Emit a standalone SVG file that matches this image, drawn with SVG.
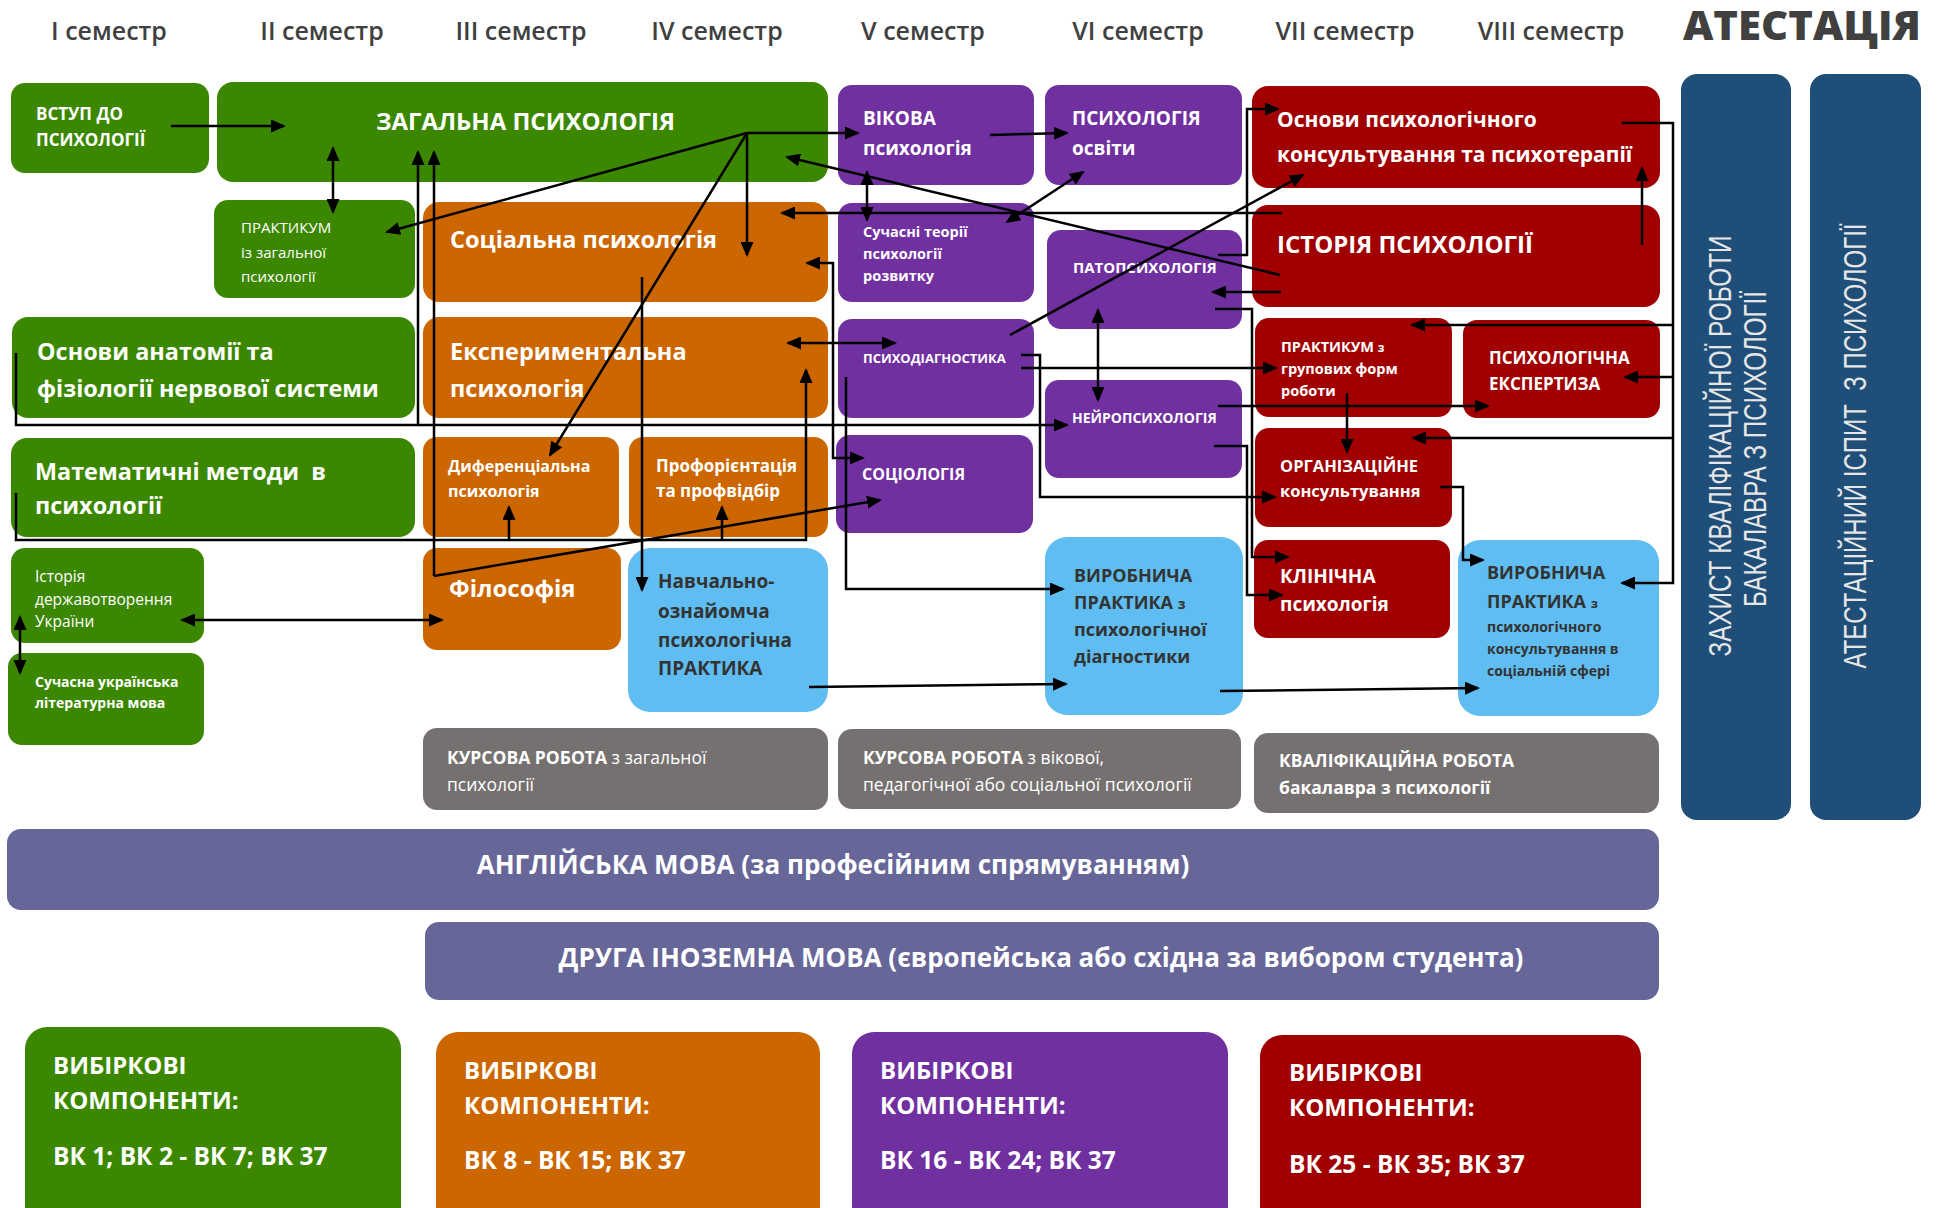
<svg xmlns="http://www.w3.org/2000/svg" width="1941" height="1208" viewBox="0 0 1941 1208">
<defs>
<style>
text{font-family:"Open Sans","DejaVu Sans",sans-serif;}
.hd{font-size:25px;font-weight:600;fill:#404040;}
.w{fill:#fff;font-weight:700;}
.wr{fill:#fff;font-weight:400;}
.d{fill:#333;font-weight:700;}
.g{fill:#3b8700}.o{fill:#cc6600}.p{fill:#7030a0}.r{fill:#a00000}.lb{fill:#5fbdf1}.gr{fill:#767171}.nv{fill:#1f4e79}.sl{fill:#666699}
.vt{font-family:"Liberation Sans",Arial,sans-serif;fill:#e6e6e6;font-size:32px;font-weight:400;}
.c{fill:none;stroke:#000;stroke-width:2.5}
.e{marker-end:url(#ah)}
.be{marker-start:url(#ah);marker-end:url(#ah)}
</style>
<marker id="ah" viewBox="0 0 15 13" refX="13" refY="6.5" markerWidth="15" markerHeight="13" markerUnits="userSpaceOnUse" orient="auto-start-reverse">
<path d="M0,0 L15,6.5 L0,13 z" fill="#000"/>
</marker>
</defs>
<rect width="1941" height="1208" fill="#fff"/>

<g id="headers">
<text class="hd" x="109" y="40" text-anchor="middle">I семестр</text>
<text class="hd" x="322" y="40" text-anchor="middle">II семестр</text>
<text class="hd" x="521" y="40" text-anchor="middle">III семестр</text>
<text class="hd" x="717" y="40" text-anchor="middle">IV семестр</text>
<text class="hd" x="923" y="40" text-anchor="middle">V семестр</text>
<text class="hd" x="1138" y="40" text-anchor="middle">VI семестр</text>
<text class="hd" x="1345" y="40" text-anchor="middle">VII семестр</text>
<text class="hd" x="1551" y="40" text-anchor="middle">VIII семестр</text>
<text x="1802" y="40" text-anchor="middle" textLength="238" lengthAdjust="spacingAndGlyphs" style="font-size:40px;font-weight:800;fill:#404040">АТЕСТАЦІЯ</text>
</g>

<g id="n-vstup"><rect class="g" x="11" y="83" width="198" height="90" rx="14"/>
<text class="w" x="36" y="120" font-size="17">ВСТУП ДО</text><text class="w" x="36" y="146" font-size="17">ПСИХОЛОГІЇ</text></g>
<g id="n-zagalna"><rect class="g" x="217" y="82" width="611" height="100" rx="16"/>
<text class="w" x="376" y="130" font-size="24">ЗАГАЛЬНА ПСИХОЛОГІЯ</text></g>
<g id="n-prakt1"><rect class="g" x="214" y="200" width="201" height="98" rx="14"/>
<text class="wr" x="241" y="233" font-size="15">ПРАКТИКУМ</text><text class="wr" x="241" y="258" font-size="15">із загальної</text><text class="wr" x="241" y="282" font-size="15">психології</text></g>
<g id="n-social"><rect class="o" x="423" y="202" width="405" height="100" rx="16"/>
<text class="w" x="450" y="248" font-size="23.5">Соціальна психологія</text></g>
<g id="n-anat"><rect class="g" x="12" y="317" width="403" height="101" rx="16"/>
<text class="w" x="37" y="360" font-size="23.4">Основи анатомії та</text><text class="w" x="37" y="397" font-size="23.4">фізіології нервової системи</text></g>
<g id="n-exper"><rect class="o" x="423" y="317" width="405" height="101" rx="16"/>
<text class="w" x="450" y="360" font-size="23.5">Експериментальна</text><text class="w" x="450" y="397" font-size="23.5">психологія</text></g>
<g id="n-math"><rect class="g" x="11" y="438" width="404" height="99" rx="16"/>
<text class="w" x="35" y="480" font-size="23.4" xml:space="preserve">Математичні методи  в</text><text class="w" x="35" y="514" font-size="23.4">психології</text></g>
<g id="n-difer"><rect class="o" x="423" y="437" width="196" height="100" rx="14"/>
<text class="w" x="448" y="472" font-size="16">Диференціальна</text><text class="w" x="448" y="497" font-size="16">психологія</text></g>
<g id="n-profor"><rect class="o" x="629" y="437" width="199" height="100" rx="14"/>
<text class="w" x="656" y="472" font-size="17">Профорієнтація</text><text class="w" x="656" y="497" font-size="17">та профвідбір</text></g>
<g id="n-istderzh"><rect class="g" x="11" y="548" width="193" height="95" rx="14"/>
<text class="wr" x="35" y="582" font-size="15.5">Історія</text><text class="wr" x="35" y="605" font-size="15.5">державотворення</text><text class="wr" x="35" y="627" font-size="15.5">України</text></g>
<g id="n-suchukr"><rect class="g" x="8" y="653" width="196" height="92" rx="14"/>
<text class="w" x="35" y="687" font-size="14">Сучасна українська</text><text class="w" x="35" y="708" font-size="14">літературна мова</text></g>
<g id="n-filos"><rect class="o" x="423" y="548" width="198" height="102" rx="14"/>
<text class="w" x="449" y="597" font-size="24">Філософія</text></g>
<g id="n-navch"><rect class="lb" x="628" y="548" width="200" height="164" rx="22"/>
<text class="d" x="658" y="588" font-size="19">Навчально-</text><text class="d" x="658" y="618" font-size="19">ознайомча</text><text class="d" x="658" y="647" font-size="19">психологічна</text><text class="d" x="658" y="675" font-size="19">ПРАКТИКА</text></g>
<g id="n-kurs1"><rect class="gr" x="423" y="728" width="405" height="82" rx="14"/>
<text class="wr" x="447" y="764" font-size="17.5"><tspan font-weight="700">КУРСОВА РОБОТА</tspan> з загальної</text><text class="wr" x="447" y="791" font-size="17.5">психології</text></g>

<g id="n-vikova"><rect class="p" x="838" y="85" width="196" height="100" rx="14"/>
<text class="w" x="863" y="125" font-size="19">ВІКОВА</text><text class="w" x="863" y="155" font-size="19">психологія</text></g>
<g id="n-psyosv"><rect class="p" x="1045" y="85" width="197" height="100" rx="14"/>
<text class="w" x="1072" y="125" font-size="19">ПСИХОЛОГІЯ</text><text class="w" x="1072" y="155" font-size="19">освіти</text></g>
<g id="n-suchteor"><rect class="p" x="838" y="203" width="196" height="99" rx="14"/>
<text class="w" x="863" y="237" font-size="14.5">Сучасні теорії</text><text class="w" x="863" y="259" font-size="14.5">психології</text><text class="w" x="863" y="281" font-size="14.5">розвитку</text></g>
<g id="n-pato"><rect class="p" x="1047" y="230" width="195" height="99" rx="14"/>
<text class="w" x="1073" y="273" font-size="15">ПАТОПСИХОЛОГІЯ</text></g>
<g id="n-psydiag"><rect class="p" x="838" y="319" width="196" height="99" rx="14"/>
<text class="w" x="863" y="363" font-size="13">ПСИХОДІАГНОСТИКА</text></g>
<g id="n-neuro"><rect class="p" x="1045" y="380" width="197" height="98" rx="14"/>
<text class="w" x="1072" y="423" font-size="14">НЕЙРОПСИХОЛОГІЯ</text></g>
<g id="n-sociol"><rect class="p" x="836" y="435" width="197" height="98" rx="14"/>
<text class="w" x="862" y="480" font-size="16">СОЦІОЛОГІЯ</text></g>
<g id="n-vyr1"><rect class="lb" x="1045" y="537" width="198" height="178" rx="22"/>
<text class="d" x="1074" y="582" font-size="18">ВИРОБНИЧА</text><text class="d" x="1074" y="609" font-size="18">ПРАКТИКА <tspan font-size="14">з</tspan></text><text class="d" x="1074" y="636" font-size="18">психологічної</text><text class="d" x="1074" y="663" font-size="18">діагностики</text></g>
<g id="n-kurs2"><rect class="gr" x="838" y="729" width="403" height="80" rx="14"/>
<text class="wr" x="863" y="764" font-size="17.5"><tspan font-weight="700">КУРСОВА РОБОТА</tspan> з вікової,</text><text class="wr" x="863" y="791" font-size="17.5">педагогічної або соціальної психології</text></g>

<g id="n-osnkons"><rect class="r" x="1252" y="86" width="408" height="102" rx="16"/>
<text class="w" x="1277" y="127" font-size="21">Основи психологічного</text><text class="w" x="1277" y="162" font-size="21">консультування та психотерапії</text></g>
<g id="n-istpsy"><rect class="r" x="1252" y="205" width="408" height="102" rx="16"/>
<text class="w" x="1277" y="253" font-size="24">ІСТОРІЯ ПСИХОЛОГІЇ</text></g>
<g id="n-praktgr"><rect class="r" x="1255" y="318" width="197" height="99" rx="14"/>
<text class="w" x="1281" y="352" font-size="14.5">ПРАКТИКУМ <tspan font-size="12">з</tspan></text><text class="w" x="1281" y="374" font-size="14.5">групових форм</text><text class="w" x="1281" y="396" font-size="14.5">роботи</text></g>
<g id="n-ekspert"><rect class="r" x="1463" y="320" width="197" height="98" rx="14"/>
<text class="w" x="1489" y="364" font-size="17">ПСИХОЛОГІЧНА</text><text class="w" x="1489" y="390" font-size="17">ЕКСПЕРТИЗА</text></g>
<g id="n-orgkons"><rect class="r" x="1255" y="428" width="197" height="99" rx="14"/>
<text class="w" x="1280" y="472" font-size="16.5">ОРГАНІЗАЦІЙНЕ</text><text class="w" x="1280" y="497" font-size="16.5">консультування</text></g>
<g id="n-klin"><rect class="r" x="1254" y="540" width="196" height="98" rx="14"/>
<text class="w" x="1280" y="583" font-size="19">КЛІНІЧНА</text><text class="w" x="1280" y="611" font-size="19">психологія</text></g>
<g id="n-vyr2"><rect class="lb" x="1458" y="540" width="201" height="176" rx="22"/>
<text class="d" x="1487" y="579" font-size="18">ВИРОБНИЧА</text><text class="d" x="1487" y="608" font-size="18">ПРАКТИКА <tspan font-size="13">з</tspan></text><text class="d" x="1487" y="632" font-size="14">психологічного</text><text class="d" x="1487" y="654" font-size="14">консультування в</text><text class="d" x="1487" y="676" font-size="14">соціальній сфері</text></g>
<g id="n-kvalif"><rect class="gr" x="1254" y="733" width="405" height="80" rx="14"/>
<text class="w" x="1279" y="767" font-size="17.5">КВАЛІФІКАЦІЙНА РОБОТА</text><text class="w" x="1279" y="794" font-size="17.5">бакалавра з психології</text></g>

<g id="n-zakhyst"><rect class="nv" x="1681" y="74" width="110" height="746" rx="16"/>
<text class="vt" transform="translate(1731,446) rotate(-90)" text-anchor="middle" textLength="421" lengthAdjust="spacingAndGlyphs">ЗАХИСТ КВАЛІФІКАЦІЙНОЇ РОБОТИ</text>
<text class="vt" transform="translate(1766,449) rotate(-90)" text-anchor="middle" textLength="316" lengthAdjust="spacingAndGlyphs">БАКАЛАВРА З ПСИХОЛОГІЇ</text></g>
<g id="n-atest"><rect class="nv" x="1810" y="74" width="111" height="746" rx="16"/>
<text class="vt" transform="translate(1866,446) rotate(-90)" text-anchor="middle" textLength="445" lengthAdjust="spacingAndGlyphs" xml:space="preserve">АТЕСТАЦІЙНИЙ ІСПИТ  З ПСИХОЛОГІЇ</text></g>

<g id="n-engl"><rect class="sl" x="7" y="829" width="1652" height="81" rx="14"/>
<text class="w" x="833" y="874" font-size="26" text-anchor="middle">АНГЛІЙСЬКА МОВА (за професійним спрямуванням)</text></g>
<g id="n-druha"><rect class="sl" x="425" y="922" width="1234" height="78" rx="14"/>
<text class="w" x="1041" y="967" font-size="26" text-anchor="middle">ДРУГА ІНОЗЕМНА МОВА (європейська або східна за вибором студента)</text></g>

<g id="n-vk1"><rect class="g" x="25" y="1027" width="376" height="220" rx="22"/>
<text class="w" x="53" y="1074" font-size="24">ВИБІРКОВІ</text><text class="w" x="53" y="1109" font-size="24">КОМПОНЕНТИ:</text><text class="w" x="53" y="1165" font-size="24.5">ВК 1; ВК 2 - ВК 7; ВК 37</text></g>
<g id="n-vk2"><rect class="o" x="436" y="1032" width="384" height="220" rx="22"/>
<text class="w" x="464" y="1079" font-size="24">ВИБІРКОВІ</text><text class="w" x="464" y="1114" font-size="24">КОМПОНЕНТИ:</text><text class="w" x="464" y="1169" font-size="24.5">ВК 8 - ВК 15; ВК 37</text></g>
<g id="n-vk3"><rect class="p" x="852" y="1032" width="376" height="220" rx="22"/>
<text class="w" x="880" y="1079" font-size="24">ВИБІРКОВІ</text><text class="w" x="880" y="1114" font-size="24">КОМПОНЕНТИ:</text><text class="w" x="880" y="1169" font-size="24.5">ВК 16 - ВК 24; ВК 37</text></g>
<g id="n-vk4"><rect class="r" x="1260" y="1035" width="381" height="220" rx="22"/>
<text class="w" x="1289" y="1081" font-size="24">ВИБІРКОВІ</text><text class="w" x="1289" y="1116" font-size="24">КОМПОНЕНТИ:</text><text class="w" x="1289" y="1173" font-size="24.5">ВК 25 - ВК 35; ВК 37</text></g>

<g id="connectors">
<path class="c e" d="M171,126 H284"/>
<path class="c be" d="M333,148 V212"/>
<path class="c e" d="M16,353 V425 H418 V152"/>
<path class="c e" d="M418,425 H1067"/>
<path class="c e" d="M16,493 V540 H806 V370"/>
<path class="c e" d="M509,540 V507"/>
<path class="c e" d="M722,540 V507"/>
<path class="c e" d="M434,576 V152"/>
<path class="c e" d="M434,576 L880,500"/>
<path class="c e" d="M642,277 V590"/>
<path class="c e" d="M747,133 H858"/>
<path class="c e" d="M747,133 L387,232"/>
<path class="c e" d="M747,133 V255"/>
<path class="c e" d="M747,133 L550,455"/>
<path class="c e" d="M1280,275 L787,157"/>
<path class="c e" d="M1282,213 H782"/>
<path class="c be" d="M807,263 H833 V458 H863"/>
<path class="c e" d="M990,135 L1067,133"/>
<path class="c be" d="M867,172 V220"/>
<path class="c be" d="M1007,222 L1083,172"/>
<path class="c e" d="M1218,255 H1247 V109 H1278"/>
<path class="c e" d="M1010,335 L1303,175"/>
<path class="c e" d="M1281,292 H1213"/>
<path class="c e" d="M1215,309 H1252 V557 H1288"/>
<path class="c e" d="M1214,446 H1247 V595 H1282"/>
<path class="c be" d="M1098,310 V400"/>
<path class="c e" d="M1218,406 H1488"/>
<path class="c e" d="M1021,368 H1276"/>
<path class="c e" d="M1021,355 H1040 V497 H1275"/>
<path class="c be" d="M788,343 H895"/>
<path class="c e" d="M846,377 V589 H1063"/>
<path class="c e" d="M809,687 L1066,684"/>
<path class="c e" d="M1220,691 L1478,688"/>
<path class="c e" d="M1440,487 H1463 V560 H1483"/>
<path class="c e" d="M1347,393 V452"/>
<path class="c e" d="M1622,123 H1673 V583 H1622"/>
<path class="c e" d="M1673,325 H1412"/>
<path class="c e" d="M1673,377 H1625"/>
<path class="c e" d="M1673,438 H1413"/>
<path class="c e" d="M1642,245 V168"/>
<path class="c be" d="M182,620 H442"/>
<path class="c be" d="M20,617 V673"/>
</g>
</svg>
